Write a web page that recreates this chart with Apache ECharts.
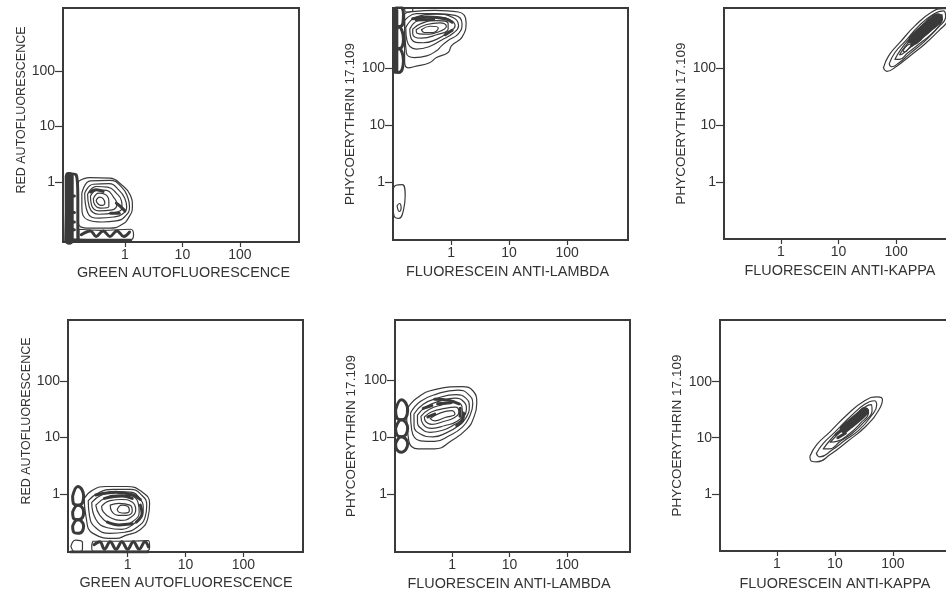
<!DOCTYPE html>
<html><head><meta charset="utf-8">
<style>html,body{margin:0;padding:0;background:#fff;overflow:hidden}#c{width:946px;height:592px}</style>
<script src="https://cdn.jsdelivr.net/npm/echarts@6/dist/echarts.min.js"></script>
</head><body><div id="c"></div>
<script>
// All contour points are [log10 x, log10 y].
const tickValues = [1, 10, 100];
const xNames = ["GREEN AUTOFLUORESCENCE","FLUORESCEIN ANTI-LAMBDA","FLUORESCEIN ANTI-KAPPA","GREEN AUTOFLUORESCENCE","FLUORESCEIN ANTI-LAMBDA","FLUORESCEIN ANTI-KAPPA"];
const yNames = ["RED AUTOFLUORESCENCE","PHYCOERYTHRIN 17.109","PHYCOERYTHRIN 17.109","RED AUTOFLUORESCENCE","PHYCOERYTHRIN 17.109","PHYCOERYTHRIN 17.109"];

const p1Contours = [
 [[-.81,.01],[-.61,.08],[-.26,.07],[-.06,-.05],[.09,-.23],[.13,-.44],[.06,-.65],[-.06,-.77],[-.26,-.83],[-.67,-.83],[-.81,-.74],[-.81,-.32]],
 [[-.75,-.2],[-.6,.02],[-.26,.03],[-.05,-.1],[.05,-.28],[.08,-.45],[0,-.62],[-.15,-.7],[-.4,-.72],[-.65,-.68],[-.75,-.45]],
 [[-.7,-.2],[-.55,-.04],[-.28,-.03],[-.1,-.15],[0,-.3],[.03,-.45],[-.05,-.58],[-.2,-.63],[-.45,-.65],[-.65,-.55]],
 [[-.65,-.22],[-.5,-.08],[-.3,-.09],[-.15,-.2],[-.06,-.34],[-.05,-.46],[-.18,-.55],[-.45,-.58],[-.62,-.45]],
 [[-.6,-.25],[-.47,-.14],[-.32,-.15],[-.2,-.27],[-.14,-.4],[-.22,-.5],[-.45,-.52],[-.58,-.42]],
 [[-.55,-.3],[-.45,-.2],[-.35,-.22],[-.28,-.34],[-.28,-.44],[-.42,-.47],[-.53,-.4]],
 [[-.5,-.33],[-.44,-.27],[-.38,-.3],[-.35,-.38],[-.42,-.42],[-.48,-.38]],
 [[-.8,-.85],[-.4,-.87],[.1,-.85],[.15,-.95],[.1,-1.04],[-.8,-1.04]]
];
const p1Dense = [
 [[-1,.15],[-.85,.13],[-.82,-.3],[-.82,-.8],[-.82,-1.07],[-1.03,-1.07]]
];
const p1Bands = [
 [[-.6,-.18],[-.5,-.14],[-.38,-.17]],
 [[-.15,-.38],[-.08,-.44],[0,-.52]],
 [[-.25,-.56],[-.1,-.56]],
 [[-.93,-.25],[-.88,-.25]],
 [[-.93,-.55],[-.88,-.55]],
 [[-.93,-.72],[-.88,-.72]],
 [[-.93,-.86],[-.88,-.86]],
 [[-1,-1.04],[-.4,-1.05],[.1,-1.05]],
 [[-.76,-.95],[-.6,-.88],[-.5,-.98],[-.38,-.88],[-.26,-.98],[-.14,-.88],[-.02,-.98],[.08,-.9]]
];
const p1Masses = [[[-.97,.1],[-.97,-1.05]]];

const p2Contours = [
 [[-.8,2.95],[-.71,2.98],[-.28,3.01],[.13,2.98],[.26,2.8],[.19,2.54],[.01,2.39],[-.05,2.27],[-.25,2.18],[-.37,2.09],[-.6,2.03],[-.74,2],[-.8,2.12]],
 [[-.8,2.83],[-.6,2.95],[-.25,2.95],[.07,2.92],[.19,2.77],[.13,2.6],[-.05,2.48],[-.16,2.39],[-.25,2.3],[-.42,2.21],[-.63,2.18],[-.77,2.27]],
 [[-.78,2.71],[-.6,2.89],[-.25,2.94],[.04,2.88],[.13,2.74],[.04,2.61],[-.16,2.49],[-.38,2.37],[-.6,2.33],[-.76,2.48]],
 [[-.71,2.68],[-.57,2.83],[-.25,2.89],[-.02,2.84],[.07,2.74],[-.05,2.62],[-.25,2.5],[-.48,2.44],[-.68,2.5]],
 [[-.66,2.68],[-.51,2.78],[-.25,2.83],[-.05,2.78],[-.05,2.68],[-.25,2.58],[-.51,2.52],[-.66,2.6]],
 [[-.6,2.67],[-.42,2.76],[-.19,2.79],[-.08,2.73],[-.22,2.63],[-.45,2.59],[-.59,2.61]],
 [[-.51,2.67],[-.36,2.73],[-.22,2.7],[-.31,2.62],[-.46,2.62]],
 [[-.8,3.07],[-.66,3.07],[-.66,3],[-.78,2.98]],
 [[-1.02,-.3],[-.95,-.06],[-.84,-.05],[-.79,-.25],[-.82,-.5],[-.9,-.64],[-.98,-.6]],
 [[-.93,-.42],[-.89,-.38],[-.86,-.46],[-.89,-.52]]
];
const p2Dense = [
 [[-.98,2.95],[-.9,3.1],[-.82,2.95],[-.83,2.78],[-.9,2.72],[-.98,2.78]],
 [[-.98,2.5],[-.9,2.72],[-.82,2.5],[-.84,2.38],[-.9,2.34],[-.98,2.38]],
 [[-.98,2.13],[-.9,2.34],[-.82,2.13],[-.84,1.98],[-.9,1.92],[-.98,1.98]]
];
const p2Bands = [
 [[-.66,2.86],[-.4,2.89],[-.1,2.86],[.02,2.8]],
 [[-.6,2.84],[-.3,2.85]],
 [[-.1,2.58],[.02,2.66]]
];
const p2Masses = [[[-.96,3.0],[-.96,1.95]]];

const p3Contours = [
 [[1.78,2],[1.87,2.21],[2.07,2.45],[2.33,2.74],[2.62,2.98],[2.82,3.04],[2.94,3.01],[2.9,2.83],[2.74,2.65],[2.5,2.42],[2.24,2.21],[2.01,2.03],[1.84,1.94]],
 [[1.88,2.07],[1.98,2.27],[2.16,2.47],[2.4,2.74],[2.66,2.95],[2.82,3],[2.86,2.9],[2.72,2.7],[2.5,2.47],[2.24,2.25],[2.04,2.08],[1.92,2.02]],
 [[1.98,2.15],[2.08,2.32],[2.24,2.52],[2.48,2.77],[2.7,2.93],[2.8,2.93],[2.78,2.8],[2.62,2.6],[2.4,2.42],[2.2,2.26],[2.06,2.15]],
 [[2.06,2.23],[2.16,2.38],[2.32,2.58],[2.52,2.78],[2.7,2.88],[2.75,2.82],[2.6,2.65],[2.38,2.47],[2.2,2.32],[2.1,2.24]],
 [[2.12,2.3],[2.2,2.4],[2.27,2.42],[2.22,2.34],[2.15,2.28]]
];
const p3Dense = [];
const p3Bands = [[[2.22,2.46],[2.34,2.58]],[[2.28,2.4],[2.42,2.5]]];
const p3Masses = [[[2.31,2.5],[2.45,2.63],[2.6,2.76],[2.72,2.86]]];

const p4Contours = [
 [[-.75,-.08],[-.6,.07],[-.37,.13],[-.02,.13],[.24,.04],[.38,-.17],[.35,-.43],[.21,-.64],[-.02,-.73],[-.2,-.79],[-.6,-.7],[-.72,-.4]],
 [[-.68,-.12],[-.5,.02],[-.25,.08],[.05,.08],[.25,-.03],[.33,-.2],[.3,-.42],[.15,-.6],[-.05,-.68],[-.3,-.7],[-.55,-.6],[-.66,-.38]],
 [[-.62,-.15],[-.45,-.02],[-.2,.04],[.05,.03],[.2,-.07],[.27,-.25],[.22,-.42],[.08,-.55],[-.1,-.63],[-.35,-.6],[-.55,-.45]],
 [[-.55,-.2],[-.38,-.07],[-.15,-.02],[.05,-.03],[.18,-.15],[.2,-.32],[.1,-.48],[-.1,-.55],[-.3,-.52],[-.48,-.38]],
 [[-.45,-.22],[-.3,-.12],[-.1,-.1],[.07,-.14],[.14,-.28],[.05,-.42],[-.12,-.47],[-.3,-.42],[-.42,-.32]],
 [[-.3,-.2],[-.15,-.17],[.04,-.2],[.08,-.3],[-.02,-.38],[-.16,-.38],[-.28,-.3]],
 [[-.18,-.28],[-.1,-.2],[0,-.22],[.03,-.3],[-.05,-.34],[-.14,-.33]],
 [[-.6,-.84],[-.2,-.84],[.36,-.83],[.38,-.95],[.3,-1.02],[-.6,-1.02],[-.62,-.93]],
 [[-.98,-.93],[-.9,-.82],[-.78,-.86],[-.78,-.98],[-.9,-1.03]]
];
const p4Dense = [
 [[-.95,-.04],[-.86,.13],[-.76,-.04],[-.78,-.16],[-.86,-.2],[-.94,-.16]],
 [[-.95,-.32],[-.86,-.2],[-.76,-.32],[-.78,-.42],[-.86,-.46],[-.94,-.42]],
 [[-.95,-.57],[-.86,-.46],[-.76,-.57],[-.78,-.66],[-.86,-.7],[-.94,-.66]]
];
const p4Bands = [
 [[-.55,-.02],[-.2,.03],[.1,-.02],[.22,-.1]],
 [[.22,-.2],[.25,-.35],[.15,-.5]],
 [[.08,-.53],[-.15,-.55],[-.35,-.5]],
 [[-.4,-.08],[-.1,-.04],[.08,-.08]],
 [[-.98,-1.03],[-.6,-1.03],[.35,-1.03]],
 [[-.58,-.9],[-.48,-.85],[-.4,-.98],[-.3,-.85],[-.2,-.98],[-.1,-.85],[0,-.98],[.1,-.85],[.2,-.98],[.3,-.85],[.36,-.94]]
];
const p4Masses = [];

const p5Contours = [
 [[-.79,1.47],[-.61,1.68],[-.3,1.83],[.17,1.88],[.37,1.8],[.43,1.59],[.37,1.32],[.26,1.14],[-.01,.93],[-.3,.79],[-.59,.79],[-.75,.93]],
 [[-.72,1.42],[-.55,1.62],[-.27,1.75],[.1,1.82],[.28,1.75],[.36,1.58],[.3,1.35],[.18,1.17],[-.05,1.02],[-.3,.92],[-.55,.93],[-.7,1.12]],
 [[-.66,1.4],[-.5,1.57],[-.25,1.68],[.07,1.74],[.24,1.68],[.3,1.53],[.24,1.33],[.12,1.2],[-.1,1.07],[-.33,1],[-.55,1.05],[-.66,1.2]],
 [[-.6,1.38],[-.45,1.53],[-.2,1.63],[.05,1.68],[.2,1.62],[.25,1.48],[.18,1.32],[.05,1.22],[-.15,1.12],[-.38,1.08],[-.54,1.15],[-.6,1.27]],
 [[-.54,1.36],[-.4,1.48],[-.18,1.56],[.05,1.6],[.17,1.54],[.18,1.4],[.08,1.27],[-.12,1.2],[-.35,1.15],[-.5,1.22]],
 [[-.48,1.35],[-.35,1.44],[-.12,1.5],[.06,1.52],[.12,1.43],[.03,1.33],[-.15,1.27],[-.35,1.22],[-.46,1.27]],
 [[-.38,1.32],[-.2,1.42],[0,1.46],[.05,1.4],[-.12,1.34],[-.3,1.28]]
];
const p5Dense = [
 [[-.98,1.47],[-.88,1.65],[-.77,1.47],[-.8,1.34],[-.88,1.3],[-.96,1.34]],
 [[-.98,1.15],[-.88,1.3],[-.77,1.15],[-.8,1.04],[-.88,1],[-.96,1.04]],
 [[-.98,.88],[-.88,1],[-.77,.88],[-.8,.78],[-.88,.73],[-.96,.78]]
];
const p5Bands = [
 [[-.3,1.66],[-.05,1.64],[.12,1.58]],
 [[.2,1.42],[.18,1.28],[.08,1.2]],
 [[-.5,1.5],[-.35,1.55]],
 [[-.42,1.35],[-.3,1.4]],
 [[-.25,1.58],[-.02,1.6]],
 [[.14,1.5],[.14,1.36]]
];
const p5Masses = [];

const p6Contours = [
 [[.57,.67],[.69,.88],[.92,1.11],[1.21,1.41],[1.5,1.65],[1.73,1.73],[1.82,1.68],[1.76,1.5],[1.53,1.2],[1.21,.93],[.92,.7],[.69,.57],[.6,.58]],
 [[.68,.72],[.8,.9],[1,1.1],[1.27,1.38],[1.52,1.6],[1.68,1.66],[1.72,1.58],[1.62,1.38],[1.42,1.14],[1.18,.96],[.95,.78],[.74,.66]],
 [[.8,.8],[.92,.96],[1.08,1.13],[1.32,1.37],[1.52,1.55],[1.63,1.59],[1.64,1.48],[1.5,1.28],[1.3,1.08],[1.1,.94],[.9,.8]],
 [[.92,.92],[1.02,1.03],[1.18,1.2],[1.38,1.4],[1.55,1.52],[1.58,1.45],[1.45,1.27],[1.25,1.07],[1.05,.94]]
];
const p6Dense = [];
const p6Bands = [[[1.02,1.06],[1.12,1.14]],[[1.05,1],[1.18,1.08]]];
const p6Masses = [[[1.16,1.16],[1.28,1.26],[1.42,1.38],[1.51,1.47]]];

// panel frames in pixels, axis extents in decades, axis-title placement
const frames = [
 {l:63, t:8, w:236, h:234, x:[-1.078,3.03], y:[-1.08,3.135], xGap:24, yGap:35, xShift:2.5, yShift:15, yFont:12.5},
 {l:393,t:8, w:235, h:232, x:[-1.0,3.05],  y:[-1.02,3.05],  xGap:25, yGap:36, xShift:-3, yShift:0, yFont:13.5},
 {l:724,t:8, w:236, h:231, x:[-.99,3.11],  y:[-1.0,3.05],   xGap:25, yGap:36, xShift:-2, yShift:0, yFont:13.5},
 {l:68, t:320,w:235,h:232, x:[-1.03,3.03], y:[-1.03,3.08],  xGap:24, yGap:34, xShift:0.5, yShift:15, yFont:12.5},
 {l:395,t:320,w:235,h:232, x:[-.99,3.09],  y:[-1.02,3.05],  xGap:25, yGap:37, xShift:-3.5, yShift:0, yFont:13.5},
 {l:720,t:320,w:235,h:231, x:[-.98,3.07],  y:[-1.02,3.1],   xGap:26, yGap:36, xShift:-2.5, yShift:0, yFont:13.5}
];
const contours = [p1Contours,p2Contours,p3Contours,p4Contours,p5Contours,p6Contours];
const dense = [p1Dense,p2Dense,p3Dense,p4Dense,p5Dense,p6Dense];
const bands = [p1Bands,p2Bands,p3Bands,p4Bands,p5Bands,p6Bands];
const masses = [p1Masses,p2Masses,p3Masses,p4Masses,p5Masses,p6Masses];
const massWidth = [9,6,11,0,0,9];

const INK = '#3a3a3a', FONT = '"Liberation Sans",Arial,sans-serif';
const toValue = pts => pts.map(p => [Math.pow(10,p[0]), Math.pow(10,p[1])]);
const closed = pts => pts.concat([pts[0]]);
const grid=[],xAxis=[],yAxis=[],series=[];
function add(i,pts,width,smooth){
  series.push({type:'line',xAxisIndex:i,yAxisIndex:i,data:toValue(pts),symbol:'none',smooth:smooth,silent:true,
    lineStyle:{color:INK,width:width,cap:'round',join:'round'},animation:false,clip:true});
}
frames.forEach((f,i)=>{
  grid.push({left:f.l,top:f.t,width:f.w,height:f.h,show:true,borderColor:INK,borderWidth:2,backgroundColor:'transparent',containLabel:false,outerBoundsMode:'none'});
  const common = {type:'log',logBase:10,nameLocation:'middle',
    splitLine:{show:false},minorTick:{show:false},minorSplitLine:{show:false},
    axisLine:{show:true,onZero:false,lineStyle:{color:INK,width:2}},
    axisLabel:{color:'#333',fontFamily:FONT,fontSize:14,customValues:tickValues,formatter:v=>String(Math.round(v))}};
  xAxis.push(Object.assign({},common,{gridIndex:i,name:xNames[i],nameGap:f.xGap,position:'bottom',
    nameTextStyle:{color:'#333',fontFamily:FONT,fontSize:14.4,padding:f.xShift>0?[0,0,0,2*f.xShift]:[0,-2*f.xShift,0,0]},
    min:Math.pow(10,f.x[0]),max:Math.pow(10,f.x[1]),
    axisTick:{show:true,length:5,inside:false,customValues:tickValues,lineStyle:{color:INK,width:1.2}},
    axisLabel:Object.assign({},common.axisLabel,{margin:6})}));
  yAxis.push(Object.assign({},common,{gridIndex:i,name:yNames[i],nameGap:f.yGap,position:'left',
    nameTextStyle:{color:'#333',fontFamily:FONT,fontSize:f.yFont,padding:[0,0,0,2*f.yShift]},
    min:Math.pow(10,f.y[0]),max:Math.pow(10,f.y[1]),
    axisTick:{show:true,length:8,inside:false,customValues:tickValues,lineStyle:{color:INK,width:1.2}},
    axisLabel:Object.assign({},common.axisLabel,{margin:8})}));
  contours[i].forEach(c=>add(i,closed(c),1.2,.5));
  dense[i].forEach(c=>add(i,closed(c),3,.5));
  bands[i].forEach(c=>add(i,c,3,.4));
  masses[i].forEach(c=>add(i,c,massWidth[i],.3));
});
const chart = echarts.init(document.getElementById('c'),null,{renderer:'canvas'});
chart.setOption({animation:false,backgroundColor:'#fff',grid,xAxis,yAxis,series});
</script></body></html>
